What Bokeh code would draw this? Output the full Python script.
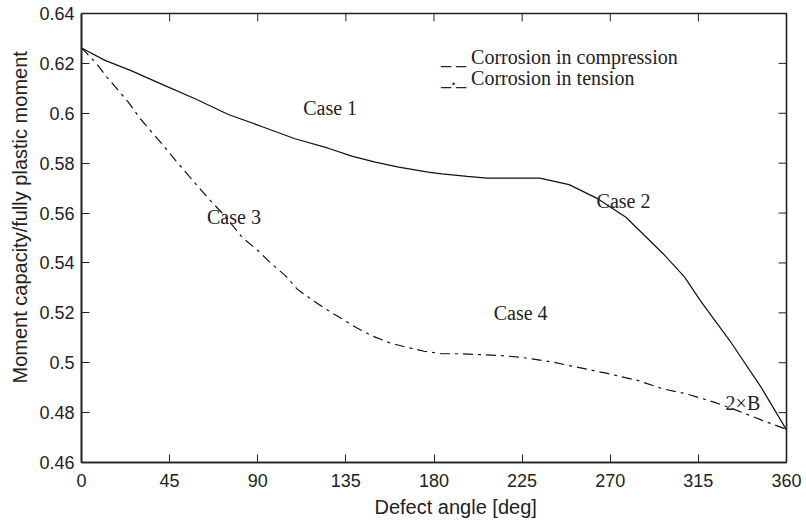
import math
from bokeh.plotting import figure
from bokeh.models import Range1d, FixedTicker, LinearAxis, Label, Title
from bokeh.embed import file_html
from bokeh.resources import INLINE

# ---- data ----
comp_angle = [0, 12, 25, 40, 58, 75, 92, 109, 126, 138, 150, 162, 177, 184, 197, 207,
              220, 234, 249, 263, 278, 284, 297, 308, 316, 331, 347, 360]
comp_moment = [0.6262, 0.6212, 0.6172, 0.6120, 0.6058, 0.5995, 0.5947, 0.5898, 0.5860,
               0.5828, 0.5804, 0.5784, 0.5764, 0.5757, 0.5747, 0.5740, 0.5740, 0.5740,
               0.5714, 0.5660, 0.5583, 0.5537, 0.5437, 0.5343, 0.5249, 0.5089, 0.4902, 0.4731]

tens_angle = [0, 7, 13, 24, 30, 41, 48, 59, 65, 73, 82, 90, 97, 104, 110, 117, 126, 133,
              140, 148, 158, 166, 175, 184, 193, 214, 224, 241, 253, 268, 284, 297, 309,
              323, 335, 347, 360]
tens_moment = [0.6262, 0.6205, 0.6145, 0.6044, 0.5978, 0.5878, 0.5811, 0.5711, 0.5657,
               0.5590, 0.5503, 0.5450, 0.5397, 0.5350, 0.5296, 0.5256, 0.5209, 0.5176,
               0.5142, 0.5109, 0.5078, 0.5062, 0.5046, 0.5036, 0.5036, 0.5029, 0.5022,
               0.5002, 0.4982, 0.4958, 0.4929, 0.4895, 0.4875, 0.4842, 0.4808, 0.4771, 0.4733]

x_ticks = [0, 45, 90, 135, 180, 225, 270, 315, 360]
y_ticks = [0.46, 0.48, 0.50, 0.52, 0.54, 0.56, 0.58, 0.60, 0.62, 0.64]
y_tick_labels = ["0.46", "0.48", "0.5", "0.52", "0.54", "0.56", "0.58", "0.6", "0.62", "0.64"]

legend_texts = ["_ _ Corrosion in compression", "_._ Corrosion in tension"]
case_texts = ["Case 1", "Case 2", "Case 3", "Case 4", "2\u00d7B"]
case_x = [113.2, 263.0, 64.1, 210.5, 328.9]
case_y = [0.6022, 0.5650, 0.5583, 0.5200, 0.4839]

x_label = "Defect angle [deg]"
y_label = "Moment capacity/fully plastic moment"

X0, X1 = 0, 360
Y0, Y1 = 0.46, 0.64

# ---- figure ----
p = figure(width=806, height=528, output_backend="svg", toolbar_location=None,
           x_range=Range1d(X0, X1), y_range=Range1d(Y0, Y1),
           x_axis_location=None, y_axis_location=None,
           min_border_left=80, min_border_right=20, min_border_top=13, min_border_bottom=66)
p.background_fill_color = "white"
p.border_fill_color = "white"
p.grid.visible = False
p.outline_line_color = "#222222"
p.outline_line_width = 1.6

sans = "Liberation Sans"
serif = "Liberation Serif"
ink = "#222222"

def make_axis(ticks):
    ax = LinearAxis(ticker=FixedTicker(ticks=ticks))
    ax.axis_line_color = ink
    ax.axis_line_width = 1.6
    ax.major_tick_in = 8
    ax.major_tick_out = 0
    ax.major_tick_line_color = ink
    ax.minor_tick_line_color = None
    ax.major_label_text_font = sans
    ax.major_label_text_color = ink
    ax.major_label_text_font_size = "18px"
    return ax

bottom = make_axis(x_ticks)
bottom.major_label_standoff = 11
left = make_axis(y_ticks)
left.major_label_standoff = 7
left.major_label_overrides = {t: l for t, l in zip(y_ticks, y_tick_labels)}
p.add_layout(bottom, "below")
p.add_layout(left, "left")

# mirrored inward ticks on the top and right edges (half of each dash is clipped by the frame)
p.scatter(x_ticks, [Y1] * len(x_ticks), marker="dash", size=16, angle=math.pi / 2,
          line_color=ink, line_width=1)
p.scatter([X1] * len(y_ticks), y_ticks, marker="dash", size=16,
          line_color=ink, line_width=1)

# axis titles
p.add_layout(Title(text=x_label, align="left", offset=293, text_font=sans,
                   text_font_size="20px", text_font_style="normal", text_color=ink,
                   standoff=9), "below")
p.add_layout(Title(text=y_label, align="left", offset=79, text_font=sans,
                   text_font_size="20px", text_font_style="normal", text_color=ink,
                   standoff=12), "left")

p.line(comp_angle, comp_moment, line_color="#111111", line_width=1.2)
p.line(tens_angle, tens_moment, line_color="#111111", line_width=1.2, line_dash="10 5 3 5")

for t, x, y in zip(case_texts, case_x, case_y):
    p.add_layout(Label(x=x, y=y, text=t, text_font=serif, text_font_size="20px",
                       text_color=ink, text_align="left", text_baseline="alphabetic"))

for i, t in enumerate(legend_texts):
    p.add_layout(Label(x=183.6, y=0.6224 - i * 0.0081, text=t, text_font=serif,
                       text_font_size="20px", text_color=ink,
                       text_align="left", text_baseline="alphabetic"))

open("out.html", "w").write(file_html(p, INLINE))
